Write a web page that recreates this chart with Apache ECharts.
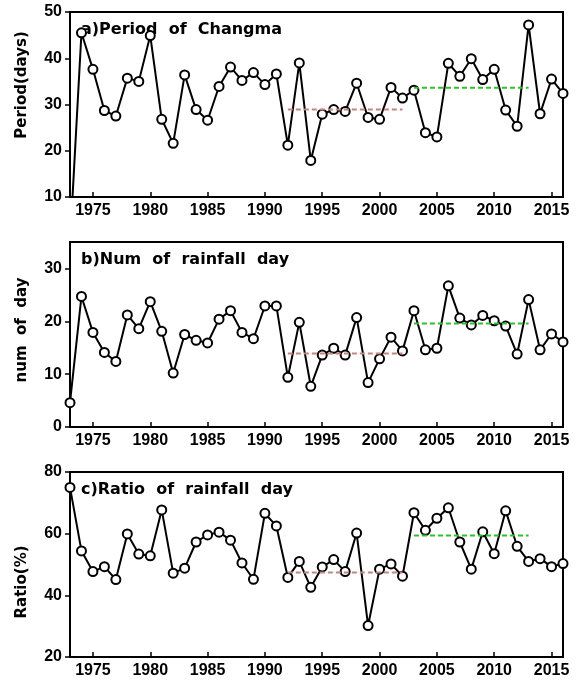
<!DOCTYPE html>
<html>
<head>
<meta charset="utf-8">
<script src="https://cdn.jsdelivr.net/npm/echarts@6/dist/echarts.min.js"></script>
<style>
  html, body { margin: 0; padding: 0; background: #fff; }
  #main { width: 577px; height: 682px; }
</style>
</head>
<body>
<div id="main"></div>
<script>
// years 1973-2016
var years = [];
for (var y = 1973; y <= 2016; y++) years.push(y);

// a) period of Changma (days), 1973 is off the bottom of the axis
var period = [0, 45.5, 37.6, 28.7, 27.5, 35.7, 35.0, 44.9, 26.8, 21.6,
  36.4, 28.9, 26.6, 33.9, 38.1, 35.2, 36.9, 34.3, 36.6, 21.2,
  39.0, 17.9, 27.9, 28.9, 28.5, 34.6, 27.2, 26.8, 33.7, 31.4,
  33.1, 23.9, 23.0, 38.9, 36.1, 39.9, 35.4, 37.6, 28.8, 25.3,
  47.2, 28.0, 35.5, 32.4];
// b) number of rainfall day
var rainDays = [4.6, 24.7, 17.9, 14.1, 12.4, 21.2, 18.6, 23.7, 18.1, 10.2,
  17.5, 16.4, 15.9, 20.4, 22.0, 17.9, 16.7, 22.9, 22.9, 9.4,
  19.8, 7.7, 13.6, 14.9, 13.6, 20.7, 8.4, 12.9, 17.0, 14.4,
  22.0, 14.6, 14.9, 26.7, 20.6, 19.3, 21.1, 20.1, 19.1, 13.8,
  24.1, 14.6, 17.6, 16.1];
// c) ratio of rainfall day (%)
var ratio = [75.0, 54.4, 47.7, 49.3, 45.1, 59.9, 53.4, 52.8, 67.7, 47.2,
  48.8, 57.3, 59.6, 60.5, 57.9, 50.5, 45.2, 66.6, 62.5, 45.8,
  51.0, 42.6, 49.2, 51.6, 47.7, 60.2, 30.2, 48.5, 50.2, 46.2,
  66.8, 61.1, 65.0, 68.4, 57.3, 48.5, 60.6, 53.5, 67.4, 55.9,
  51.0, 51.9, 49.3, 50.3];

// period means (1992-2002, 2003-2013)
var meanA = [28.9, 33.6];
var meanB = [13.9, 19.6];
var meanC = [47.4, 59.4];
var meanSpans = [[1992, 2002], [2003, 2013]];

var xTicks = [1975, 1980, 1985, 1990, 1995, 2000, 2005, 2010, 2015];
var yTicksA = [10, 20, 30, 40, 50];
var yTicksB = [0, 10, 20, 30];
var yTicksC = [20, 40, 60, 80];

var titles = ['a)Period  of  Changma', 'b)Num  of  rainfall  day', 'c)Ratio  of  rainfall  day'];
var yNames = ['Period(days)', 'num  of  day', 'Ratio(%)'];

var gridTops = [12, 242, 472];
var gridH = 185;

function xAxisOf(i) {
  return {
    type: 'value', gridIndex: i, min: 1973, max: 2016, interval: 1,
    axisLine: { lineStyle: { color: '#000', width: 2 } },
    axisTick: { inside: true, length: 5, customValues: xTicks, lineStyle: { color: '#000', width: 1.5 } },
    axisLabel: { customValues: xTicks, color: '#000', fontSize: 16, fontWeight: 'bold',
      fontFamily: 'Liberation Sans', margin: 6,
      formatter: function (v) { return String(v); } },
    splitLine: { show: false }
  };
}
function yAxisOf(i, mn, mx, ticks) {
  return {
    type: 'value', gridIndex: i, min: mn, max: mx, interval: 5,
    axisLine: { show: true, lineStyle: { color: '#000', width: 2 } },
    axisTick: { show: true, length: 5, customValues: ticks, lineStyle: { color: '#000', width: 1.5 } },
    axisLabel: { customValues: ticks, color: '#000', fontSize: 16, fontWeight: 'bold',
      fontFamily: 'Liberation Sans', margin: 8 },
    splitLine: { show: false }
  };
}
function pts(vals) {
  return years.map(function (yr, k) { return [yr, vals[k]]; });
}
function mainSeries(i, vals) {
  return {
    type: 'line', xAxisIndex: i, yAxisIndex: i, data: pts(vals), clip: true,
    symbol: 'circle', symbolSize: 9,
    lineStyle: { color: '#000', width: 2 },
    itemStyle: { color: '#fff', borderColor: '#000', borderWidth: 2 },
    z: 2
  };
}
function meanSeries(i, m, k, col) {
  return {
    type: 'line', xAxisIndex: i, yAxisIndex: i, symbol: 'none', z: 3,
    data: [[meanSpans[k][0], m[k]], [meanSpans[k][1], m[k]]],
    lineStyle: { color: col, width: 2, type: [5, 3] }
  };
}

var brown = '#c48676', green = '#2fbf2f';
var grids = gridTops.map(function (t) {
  return { left: 70, right: 14, top: t, height: gridH, show: true,
    borderColor: '#000', borderWidth: 2 };
});

var graphic = [];
titles.forEach(function (t, i) {
  graphic.push({ type: 'text', left: 81, top: gridTops[i] + 10,
    style: { text: t, font: 'bold 16px "DejaVu Sans"', fill: '#000' } });
});
var nameCenters = [85, 330, 582];
yNames.forEach(function (t, i) {
  graphic.push({ type: 'text', x: 22, y: nameCenters[i], rotation: Math.PI / 2,
    style: { text: t, font: 'bold 15px "DejaVu Sans"', fill: '#000', align: 'center', verticalAlign: 'middle' } });
});

var chart = echarts.init(document.getElementById('main'));
chart.setOption({
  animation: false,
  backgroundColor: '#fff',
  grid: grids,
  xAxis: [xAxisOf(0), xAxisOf(1), xAxisOf(2)],
  yAxis: [yAxisOf(0, 10, 50, yTicksA), yAxisOf(1, 0, 35, yTicksB), yAxisOf(2, 20, 80, yTicksC)],
  graphic: graphic,
  series: [
    mainSeries(0, period), meanSeries(0, meanA, 0, brown), meanSeries(0, meanA, 1, green),
    mainSeries(1, rainDays), meanSeries(1, meanB, 0, brown), meanSeries(1, meanB, 1, green),
    mainSeries(2, ratio), meanSeries(2, meanC, 0, brown), meanSeries(2, meanC, 1, green)
  ]
});
</script>
</body>
</html>
